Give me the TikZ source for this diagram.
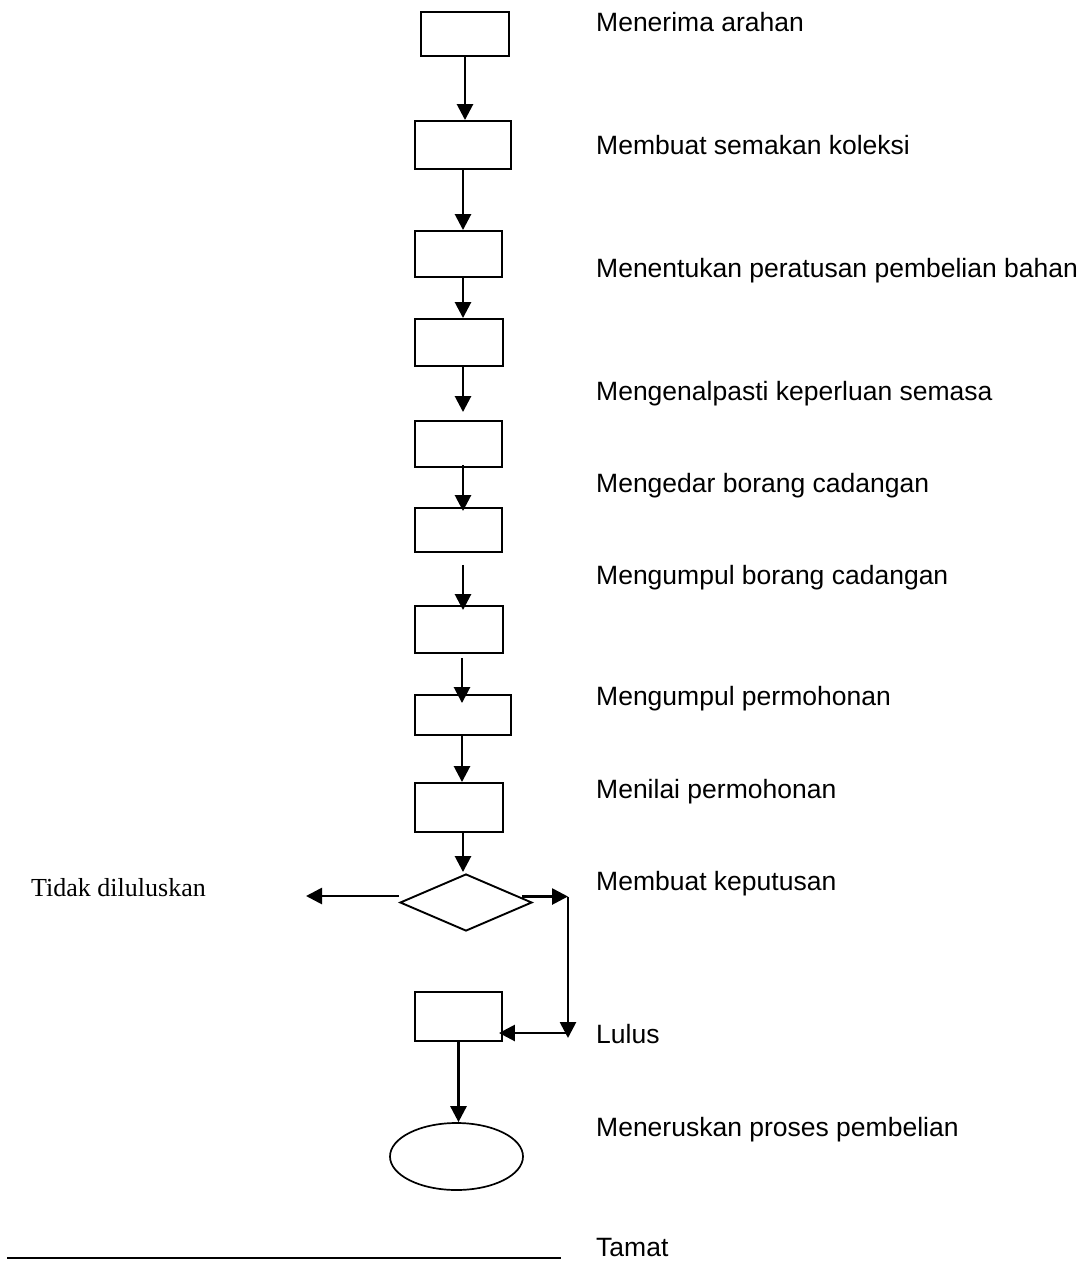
\documentclass[tikz,border=0pt]{standalone}
\usepackage{fontspec}
\setmainfont{Liberation Sans}
\newfontfamily\serifalt{Liberation Serif}
\usetikzlibrary{arrows.meta,shapes.geometric,calc}
\begin{document}
\begin{tikzpicture}[x=1pt,y=-1pt,
  box/.style={draw,line width=1.9pt,inner sep=0pt},
  arr/.style={line width=2.7pt,-{Triangle[length=16pt,width=16pt]}},
  lbl/.style={anchor=base west,inner sep=0pt,font=\fontsize{26.5}{30}\selectfont}]
\useasboundingbox (0,0) rectangle (1086,1261);
% boxes
\node[box,minimum width=88pt,minimum height=44pt] (b1) at (465,34) {};
\node[box,minimum width=96pt,minimum height=48pt] (b2) at (463,145) {};
\node[box,minimum width=87pt,minimum height=46pt] (b3) at (458.5,254) {};
\node[box,minimum width=88pt,minimum height=47pt] (b4) at (459,342.5) {};
\node[box,minimum width=87pt,minimum height=46pt] (b5) at (458.5,444) {};
\node[box,minimum width=87pt,minimum height=44pt] (b6) at (458.5,530) {};
\node[box,minimum width=88pt,minimum height=47pt] (b7) at (459,629.5) {};
\node[box,minimum width=96pt,minimum height=40pt] (b8) at (463,715) {};
\node[box,minimum width=88pt,minimum height=49pt] (b9) at (459,807.5) {};
\node[draw,line width=1.9pt,shape=diamond,inner sep=0pt,minimum width=132pt,minimum height=57pt] (dia) at (466,902.5) {};
\node[box,minimum width=87pt,minimum height=49pt] (b10) at (458.5,1016.5) {};
\node[draw,line width=1.7pt,shape=ellipse,inner sep=0pt,minimum width=133pt,minimum height=67pt] (ell) at (456.5,1156.5) {};
% free ends
\coordinate (tidakend) at (306,896);
\coordinate (corner) at (568,896.5);
\coordinate (cornerb) at (568,1038);
\coordinate (lulusin) at (568,1033);
% connectors
\draw[arr] (b1.south) -- (b1.south |- b2.north);
\draw[arr] (b2.south) -- (b2.south |- b3.north);
\draw[arr] (b3.south -| b2.south) -- (b4.north -| b2.south);
\draw[arr] (b4.south -| b2.south) -- ($(b5.north -| b2.south)+(0,-8)$);
\draw[arr] ($(b5.south -| b2.south)+(0,-3)$) -- ($(b6.north -| b2.south)+(0,4)$);
\draw[arr] ($(b6.south -| b2.south)+(0,12)$) -- ($(b7.north -| b2.south)+(0,5)$);
\draw[arr] ($(b7.south -| b2.south)+(-1,4)$) -- ($(b8.north -| b2.south)+(-1,9)$);
\draw[arr] ($(b8.south -| b2.south)+(-1,0)$) -- ($(b9.north -| b2.south)+(-1,0)$);
\draw[arr] (b9.south -| b2.south) -- ($(dia.north -| b2.south)+(0,-1)$);
\draw[arr] (tidakend -| dia.west) -- (tidakend);
\draw[arr] ($(corner -| dia.east)+(-11,0)$) -- (corner);
\draw[arr] (corner) -- (cornerb);
\draw[arr] (lulusin) -- ($(lulusin -| b10.east)+(-4,0)$);
\draw[arr] (b10.south) -- (b10.south |- ell.north);
\draw[line width=2pt] (7,1258) -- (561,1258);
% labels
\node[lbl] (t1) at (596,31.7) {Menerima arahan};
\node[lbl] (t2) at (596,154.7) {Membuat semakan koleksi};
\node[lbl] (t3) at (596,277.7) {Menentukan peratusan pembelian bahan};
\node[lbl] (t4) at (596,400.7) {Mengenalpasti keperluan semasa};
\node[lbl] (t5) at (596,492.7) {Mengedar borang cadangan};
\node[lbl] (t6) at (596,584.7) {Mengumpul borang cadangan};
\node[lbl] (t7) at (596,705.7) {Mengumpul permohonan};
\node[lbl] (t8) at (596,798.7) {Menilai permohonan};
\node[lbl] (t9) at (596,890.7) {Membuat keputusan};
\node[lbl] (t10) at (596,1043.3) {Lulus};
\node[lbl] (t11) at (596,1136.7) {Meneruskan proses pembelian};
\node[lbl] (t12) at (596,1256.7) {Tamat};
\node[anchor=base east,inner sep=0pt,font=\serifalt\fontsize{26}{30}\selectfont] (tidak) at (206,896.7) {Tidak diluluskan};
\end{tikzpicture}
\end{document}
